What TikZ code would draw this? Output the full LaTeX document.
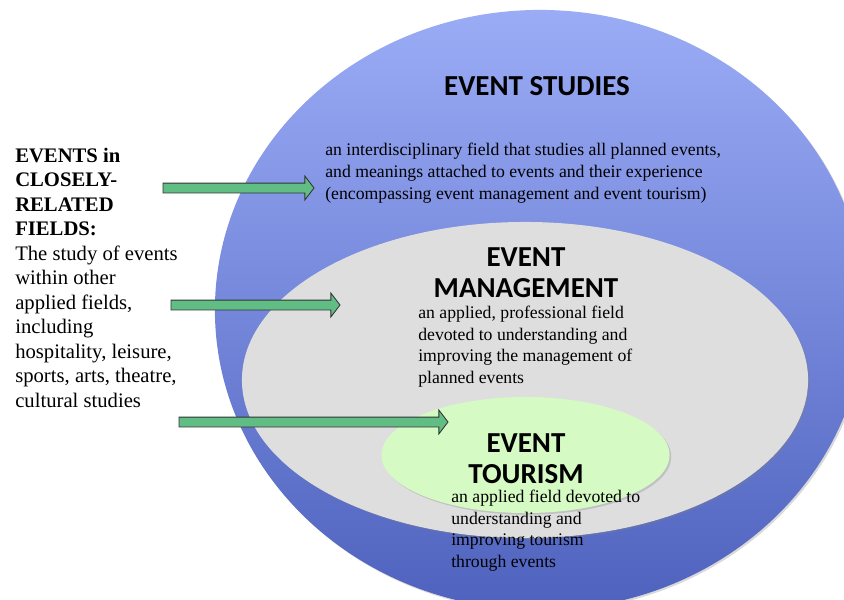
\documentclass[tikz,border=0pt]{standalone}
\usepackage{fontspec}
\setmainfont{Liberation Serif}
\newfontfamily\headfont{Carlito}
\usepackage{tikz}
\usetikzlibrary{shapes.geometric,shadows,calc}
\definecolor{studies-top}{HTML}{9BACF6}
\definecolor{studies-bottom}{HTML}{4E62BE}
\definecolor{management-gray}{HTML}{DEDEDE}
\definecolor{tourism-green}{HTML}{D6FAC3}
\definecolor{arrow-green}{HTML}{60BE84}
\tikzset{
    field-ellipse/.style = {ellipse, inner sep=0pt, drop shadow={opacity=0.3, shadow xshift=1.2pt, shadow yshift=-1.2pt}},
    field-title/.style = {font=\headfont\bfseries\fontsize{20.6}{22}\selectfont, align=center, inner sep=0pt},
    field-text/.style = {font=\fontsize{12.6}{15.3}\selectfont, align=left, inner sep=0pt},
    side-text/.style = {font=\fontsize{14.7}{17.4}\selectfont, align=left, inner sep=0pt},
    fat-arrow/.style = {draw=black!80, fill=arrow-green, line width=0.6pt, line join=miter},
}
\newcommand{\fatarrow}[2]{%
  \draw[fat-arrow] let \p1=(#1), \p2=(#2) in
    (\x1,\y1+3.5pt) -- (\x2-6.5pt,\y1+3.5pt) -- (\x2-6.5pt,\y1+8.5pt) -- (\x2,\y1)
    -- (\x2-6.5pt,\y1-8.5pt) -- (\x2-6.5pt,\y1-3.5pt) -- (\x1,\y1-3.5pt) -- cycle;}

\begin{document}
\begin{tikzpicture}[x=0.025cm, y=-0.025cm]
\useasboundingbox (0,0) rectangle (844,600);
\clip (0,0) rectangle (844,600);
\node[field-ellipse, top color=studies-top, bottom color=studies-bottom, minimum width=16.25cm, minimum height=15cm] (studies) at (540,310) {};
\node[field-ellipse, fill=management-gray, minimum width=14.15cm, minimum height=7.9cm] (management) at (525,380) {};
\node[field-ellipse, fill=tourism-green, minimum width=7.2cm, minimum height=2.9cm] (tourism) at (525.5,455) {};

\node[field-title, anchor=base] (studies-title) at (537,95) {EVENT STUDIES};
\node[field-text, anchor=base west] (studies-text) at (325,199) {an interdisciplinary field that studies all planned events,\\
and meanings attached to events and their experience\\
(encompassing event management and event tourism)};

\node[field-title, anchor=base] (management-title) at (526,297) {EVENT\\MANAGEMENT};
\node[field-text, anchor=base west] (management-text) at (418,383.5) {an applied, professional field\\
devoted to understanding and\\
improving the management of\\
planned events};

\node[field-title, anchor=base] (tourism-title) at (526,483) {EVENT\\TOURISM};
\node[field-text, anchor=base west] (tourism-text) at (451,567.5) {an applied field devoted to\\
understanding and\\
improving tourism\\
through events};

\node[side-text, anchor=base west] (related) at (15,407) {\textbf{EVENTS in}\\
\textbf{CLOSELY-}\\
\textbf{RELATED}\\
\textbf{FIELDS:}\\
The study of events\\
within other\\
applied fields,\\
including\\
hospitality, leisure,\\
sports, arts, theatre,\\
cultural studies};

\coordinate (from-studies) at (163,188);
\coordinate (to-studies) at (314,188);
\coordinate (from-management) at (171,305);
\coordinate (to-management) at (340,305);
\coordinate (from-tourism) at (179,422);
\coordinate (to-tourism) at (448,422);
\fatarrow{from-studies}{to-studies}
\fatarrow{from-management}{to-management}
\fatarrow{from-tourism}{to-tourism}
\end{tikzpicture}
\end{document}
